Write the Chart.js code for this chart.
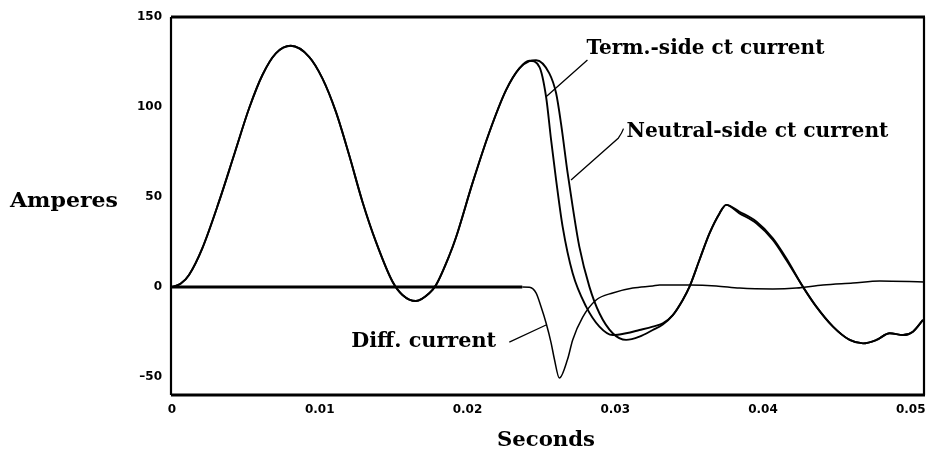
<!DOCTYPE html>
<html>
<head>
<meta charset="utf-8">
<script src="https://cdn.jsdelivr.net/npm/chart.js@4.4.0/dist/chart.umd.min.js"></script>
<style>
  html, body { margin: 0; padding: 0; background: #fff; }
</style>
</head>
<body>
<canvas id="chart" width="927" height="453"></canvas>
<script>
// values (time in seconds, current in amperes)
const termT = [0, 0.0006, 0.00115, 0.00205, 0.00318, 0.0042, 0.00522, 0.00612, 0.00703, 0.00804,
  0.00928, 0.01018, 0.01109, 0.01199, 0.01289, 0.0138, 0.01493, 0.0156, 0.01651, 0.01741,
  0.01787, 0.01877, 0.01922, 0.02035, 0.02148, 0.02261, 0.02351, 0.02419, 0.02486, 0.02532,
  0.02566, 0.026, 0.02644, 0.02712, 0.02803, 0.02893, 0.02983, 0.03074, 0.03164, 0.03254,
  0.03322, 0.0339, 0.03457, 0.03503, 0.0357, 0.03638, 0.03706, 0.03751, 0.03841, 0.03955,
  0.04067, 0.04158, 0.0427, 0.04361, 0.04474, 0.04587, 0.04677, 0.04768, 0.04858, 0.04948,
  0.05015, 0.05083];
const termI = [0, 1.9, 6.7, 21.5, 47.4, 73.3, 99.3, 117.8, 129.8, 134,
  127.9, 115.9, 97.4, 73.3, 47.4, 25.2, 2.9, -4.4, -7.8, -3.5,
  1.1, 17.5, 27.5, 58, 86, 109.4, 121.5, 125.7, 122.4, 105.7,
  81.7, 59.4, 33.5, 7.6, -10.9, -22, -26.7, -25.7, -23.9, -22,
  -20.2, -15.6, -7.2, 0.2, 15, 29.8, 40.9, 45.6, 40.9, 35.4,
  26.1, 15, 0.2, -10.9, -22, -29.4, -31.3, -29.4, -25.7, -26.7,
  -24.8, -18.3];

const neutT = [0, 0.0006, 0.00115, 0.00205, 0.00318, 0.0042, 0.00522, 0.00612, 0.00703, 0.00804,
  0.00928, 0.01018, 0.01109, 0.01199, 0.01289, 0.0138, 0.01493, 0.0156, 0.01651, 0.01741,
  0.01787, 0.01877, 0.01922, 0.02035, 0.02148, 0.02261, 0.02351, 0.02419, 0.02464, 0.02554,
  0.026, 0.02633, 0.02678, 0.02712, 0.02757, 0.02825, 0.02893, 0.02983, 0.03074, 0.03164,
  0.03254, 0.03322, 0.0339, 0.03457, 0.03503, 0.0357, 0.03638, 0.03706, 0.03751, 0.03841,
  0.03955, 0.04067, 0.04158, 0.0427, 0.04361, 0.04474, 0.04587, 0.04677, 0.04768, 0.04858,
  0.04948, 0.05015, 0.05083];
const neutI = [0, 1.9, 6.7, 21.5, 47.4, 73.3, 99.3, 117.8, 129.8, 134,
  127.9, 115.9, 97.4, 73.3, 47.4, 25.2, 2.9, -4.4, -7.8, -3.5,
  1.1, 17.5, 27.5, 58, 86, 109.4, 121.5, 125.5, 126, 118.7,
  107.6, 90.9, 63.2, 44.6, 22.4, 0.2, -14.6, -25.7, -29.4, -27.6,
  -23.9, -20.8, -15.6, -7.2, 0.2, 15, 29.8, 40.9, 45.6, 41.8,
  36.4, 27.1, 16, 0.2, -10.9, -22, -29.4, -31.3, -29.4, -25.7,
  -26.7, -24.8, -18.3];

const diffT = [0, 0.02371, 0.02419, 0.02464, 0.02498, 0.02532, 0.02566, 0.02588, 0.02622, 0.02678,
  0.02712, 0.0278, 0.02871, 0.02983, 0.03119, 0.03254, 0.033, 0.03503, 0.03684, 0.03841,
  0.04067, 0.04226, 0.04406, 0.04609, 0.0479, 0.05088];
const diffI = [0, 0, -0.2, -3.3, -11, -20, -31, -40, -50.6, -40,
  -29.4, -16.7, -7.2, -3.3, -0.6, 0.6, 1.1, 1.1, 0.6, -0.6,
  -1.1, -0.6, 1.1, 2.2, 3.3, 2.8];

const xTicks = [0, 0.01, 0.02, 0.03, 0.04, 0.05];
const yTicks = [-50, 0, 50, 100, 150];

const pts = (ts, vs) => ts.map((t, i) => ({ x: t, y: vs[i] }));

const SERIF = 'bold 20px "DejaVu Serif"';

// draw text squeezed/stretched to a given width
function fitText(ctx, text, x, y, w) {
  ctx.save();
  ctx.font = SERIF;
  ctx.textBaseline = 'alphabetic';
  ctx.textAlign = 'left';
  const m = ctx.measureText(text).width;
  ctx.translate(x, y);
  ctx.scale(w / m, 1);
  ctx.fillStyle = '#000';
  ctx.fillText(text, 0, 0);
  ctx.restore();
}

const framePlugin = {
  id: 'frame',
  afterDatasetsDraw(chart) {
    const { ctx, chartArea: a } = chart;
    ctx.save();
    ctx.strokeStyle = '#000';
    ctx.lineWidth = 3;
    ctx.beginPath();
    ctx.moveTo(a.left - 1, a.top); ctx.lineTo(a.right + 1, a.top);
    ctx.moveTo(a.left - 1, a.bottom); ctx.lineTo(a.right + 1, a.bottom);
    ctx.stroke();
    ctx.lineWidth = 2.2;
    ctx.beginPath();
    ctx.moveTo(a.left - 1, a.top); ctx.lineTo(a.left - 1, a.bottom);
    ctx.moveTo(a.right, a.top); ctx.lineTo(a.right, a.bottom);
    ctx.stroke();
    ctx.restore();
  }
};

const notePlugin = {
  id: 'notes',
  afterDraw(chart) {
    const { ctx } = chart;
    const xs = chart.scales.x, ys = chart.scales.y;
    const px = t => xs.getPixelForValue(t);
    const py = v => ys.getPixelForValue(v);

    // axis titles
    fitText(ctx, 'Amperes', 10, 207, 108);
    fitText(ctx, 'Seconds', 497, 446, 98);

    // curve labels
    fitText(ctx, 'Term.-side ct current', px(0.02805), py(129.4), 238);
    fitText(ctx, 'Neutral-side ct current', px(0.03076), py(83.3), 262);
    fitText(ctx, 'Diff. current', px(0.01213), py(-33.3), 145);

    // leader lines
    ctx.save();
    ctx.strokeStyle = '#000';
    ctx.lineWidth = 1.3;
    ctx.beginPath();
    ctx.moveTo(px(0.02812), py(126.1));
    ctx.lineTo(px(0.02532), py(105.7));
    ctx.moveTo(px(0.02701), py(59.4));
    ctx.lineTo(px(0.03022), py(82.8));
    ctx.quadraticCurveTo(px(0.03045), py(85.5), px(0.03056), py(88));
    ctx.moveTo(px(0.02283), py(-30.6));
    ctx.lineTo(px(0.02532), py(-21.1));
    ctx.stroke();
    ctx.restore();
  }
};

const tickFont = { family: '"DejaVu Sans"', size: 12, weight: 'bold' };

new Chart(document.getElementById('chart'), {
  type: 'line',
  data: {
    datasets: [
      { label: 'Term.-side ct current', data: pts(termT, termI), borderWidth: 1.9 },
      { label: 'Neutral-side ct current', data: pts(neutT, neutI), borderWidth: 1.9 },
      {
        label: 'Diff. current', data: pts(diffT, diffI), borderWidth: 1.5,
        segment: {
          borderWidth: c => (c.p0.parsed.y === 0 && c.p1.parsed.y === 0) ? 3 : undefined
        }
      }
    ]
  },
  options: {
    responsive: false,
    devicePixelRatio: 1,
    animation: false,
    layout: { padding: { top: 17, right: 3, left: 0, bottom: 0 } },
    elements: {
      point: { radius: 0 },
      line: { borderColor: '#000', cubicInterpolationMode: 'monotone', fill: false }
    },
    plugins: { legend: { display: false }, tooltip: { enabled: false } },
    scales: {
      x: {
        type: 'linear',
        min: 0,
        max: 0.0509,
        grid: { display: false, drawTicks: false },
        border: { display: false },
        afterBuildTicks: s => { s.ticks = xTicks.map(v => ({ value: v })); },
        afterFit: s => { s.height = 58; s.paddingLeft = 0; s.paddingRight = 0; },
        ticks: {
          color: '#000', font: tickFont, padding: 8, maxRotation: 0, autoSkip: false,
          callback: v => v === 0 ? '0' : v.toFixed(2)
        }
      },
      y: {
        min: -60,
        max: 150,
        grid: { display: false, drawTicks: false },
        border: { display: false },
        afterBuildTicks: s => { s.ticks = yTicks.map(v => ({ value: v })); },
        afterFit: s => { s.width = 172; s.paddingTop = 0; s.paddingBottom = 0; },
        ticks: {
          color: '#000', font: tickFont, padding: 10,
          callback: v => v < 0 ? '\u2013' + Math.abs(v) : String(v)
        }
      }
    }
  },
  plugins: [framePlugin, notePlugin]
});
</script>
</body>
</html>
